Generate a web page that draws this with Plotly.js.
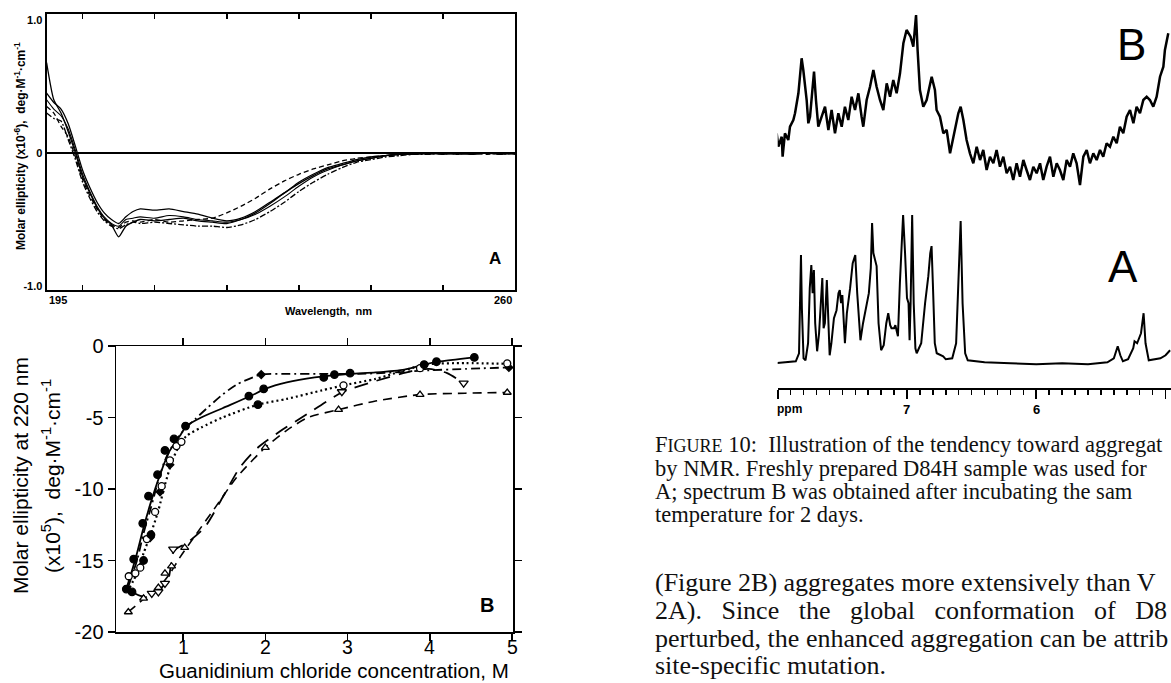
<!DOCTYPE html>
<html><head><meta charset="utf-8">
<script src="https://cdn.plot.ly/plotly-3.0.1.min.js"></script>
<style>html,body{margin:0;padding:0;background:#fff;overflow:hidden}#chart{width:1171px;height:683px}</style>
</head><body><div id="chart"></div>
<script>
// ---------- Panel A: CD spectra ----------
const cdWavelength = [195,196,197,198,199,200,201,202,203,204,205,206,207,208,210,212,214,216,218,220,222,224,226,228,230,232,234,236,238,240,242,244,246,248,250,252,254,256,258,260];
const cdCurve1 = [0.45,0.38,0.33,0.22,0.05,-0.13,-0.26,-0.37,-0.45,-0.50,-0.53,-0.48,-0.44,-0.42,-0.43,-0.42,-0.44,-0.46,-0.49,-0.51,-0.49,-0.44,-0.37,-0.30,-0.22,-0.16,-0.11,-0.08,-0.05,-0.03,-0.02,-0.01,-0.01,0.0,-0.01,0.0,-0.01,0.0,0.0,-0.01];
const cdCurve2 = [0.68,0.40,0.30,0.16,0.00,-0.18,-0.30,-0.41,-0.49,-0.54,-0.63,-0.55,-0.52,-0.50,-0.51,-0.50,-0.49,-0.51,-0.52,-0.53,-0.50,-0.45,-0.38,-0.30,-0.23,-0.17,-0.12,-0.09,-0.06,-0.04,-0.02,-0.01,0.0,-0.01,0.0,-0.01,0.0,0.0,-0.01,0.0];
const cdCurve3 = [0.35,0.30,0.20,0.12,-0.03,-0.20,-0.32,-0.42,-0.50,-0.54,-0.56,-0.52,-0.51,-0.52,-0.50,-0.52,-0.51,-0.50,-0.49,-0.45,-0.40,-0.34,-0.27,-0.21,-0.16,-0.12,-0.09,-0.06,-0.04,-0.03,-0.02,-0.01,0.0,0.0,-0.01,0.0,0.0,-0.01,0.0,0.0];
const cdCurve4 = [0.30,0.26,0.24,0.10,-0.05,-0.22,-0.34,-0.44,-0.51,-0.55,-0.57,-0.54,-0.52,-0.53,-0.52,-0.53,-0.54,-0.55,-0.55,-0.56,-0.54,-0.50,-0.44,-0.37,-0.29,-0.22,-0.16,-0.11,-0.07,-0.05,-0.03,-0.02,-0.01,-0.01,0.0,-0.01,0.0,0.0,-0.01,0.0];
const cdCurve5 = [0.40,0.33,0.28,0.18,0.02,-0.16,-0.29,-0.40,-0.48,-0.53,-0.55,-0.50,-0.49,-0.48,-0.49,-0.47,-0.48,-0.50,-0.51,-0.52,-0.50,-0.46,-0.40,-0.33,-0.25,-0.18,-0.13,-0.09,-0.06,-0.04,-0.02,-0.01,-0.01,0.0,0.0,0.0,-0.01,0.0,0.0,0.0];
const cdYTickVals = [-1, 0, 1];
const cdYTickText = ['-1.0', '0', '1.0'];
const cdXTickVals = [200,210,220,230,240,250];
const cdXEndLabels = ['195', '260'];

// ---------- Panel B: GdmCl denaturation ----------
const s1MarkX = [0.31,0.38,0.40,0.51,0.52,0.58,0.61,0.69,0.78,0.89,1.03,1.80,1.91,1.98,2.71,2.84,3.03,3.93,4.08,4.54];
const s1MarkY = [-17.0,-17.2,-14.9,-12.4,-15.0,-10.5,-13.2,-9.0,-7.3,-6.5,-5.6,-3.5,-4.1,-3.0,-2.2,-2.0,-1.9,-1.3,-1.1,-0.8];
const s1FitX = [0.31,0.37,0.44,0.52,0.61,0.72,0.83,0.96,1.04,1.22,1.48,1.82,2.00,2.26,2.60,3.03,3.34,3.69,3.93,4.10,4.54];
const s1FitY = [-17.0,-15.9,-14.5,-12.7,-10.9,-9.0,-7.4,-6.3,-5.6,-5.0,-4.35,-3.5,-3.0,-2.55,-2.2,-1.95,-1.85,-1.65,-1.3,-1.1,-0.8];
const s2MarkX = [0.34,0.42,0.48,0.56,0.66,0.74,0.84,0.92,0.98,2.95,3.88,4.94];
const s2MarkY = [-16.1,-15.9,-15.5,-13.5,-11.6,-9.8,-8.0,-7.0,-6.7,-2.75,-1.55,-1.22];
const s2FitX = [0.35,0.44,0.52,0.61,0.70,0.78,0.87,0.96,1.04,1.22,1.48,1.91,2.26,2.69,2.95,3.34,3.95,4.43,4.95];
const s2FitY = [-16.9,-15.9,-14.5,-13.1,-11.5,-9.7,-8.0,-6.9,-6.3,-5.7,-5.0,-4.1,-3.7,-3.1,-2.75,-2.3,-1.3,-1.2,-1.25];
const s3MarkX = [0.60,0.72,0.84,1.95,4.96];
const s3MarkY = [-13.4,-10.2,-8.3,-2.0,-1.5];
const s3FitX = [0.33,0.44,0.52,0.61,0.70,0.78,0.91,1.04,1.15,1.30,1.48,1.65,1.95,2.26,2.69,3.13,3.56,3.99,4.43,4.95];
const s3FitY = [-16.9,-15.0,-13.1,-11.3,-9.4,-8.0,-6.6,-5.7,-5.1,-4.3,-3.4,-2.7,-2.0,-1.95,-1.95,-1.95,-1.85,-1.7,-1.6,-1.5];
const s4MarkX = [0.62,0.70,0.78,0.88,2.93,4.41];
const s4MarkY = [-17.3,-17.2,-16.6,-14.2,-3.2,-2.6];
const s4FitX = [0.38,0.50,0.62,0.72,0.82,0.89,1.04,1.26,1.48,1.69,1.91,2.17,2.47,2.93,3.34,3.78,3.99,4.21,4.43];
const s4FitY = [-17.2,-17.5,-17.3,-17.0,-16.3,-14.3,-13.8,-12.7,-10.6,-8.5,-7.1,-6.0,-4.9,-3.25,-2.45,-1.75,-1.6,-1.9,-2.7];
const s5MarkX = [0.335,0.52,0.70,0.78,0.86,1.02,2.00,2.89,3.88,4.94];
const s5MarkY = [-18.6,-17.65,-16.9,-15.9,-15.4,-14.1,-7.1,-4.45,-3.4,-3.25];
const s5FitX = [0.335,0.52,0.70,0.83,0.96,1.13,1.39,1.65,2.0,2.26,2.52,2.89,3.34,3.88,4.43,4.94];
const s5FitY = [-18.6,-17.7,-16.9,-16.0,-14.8,-13.4,-11.3,-9.2,-7.1,-5.9,-5.0,-4.45,-3.85,-3.4,-3.3,-3.25];
const gdmXTickVals = [1,2,3,4,5];
const gdmXTickText = ['1','2','3','4','5'];
const gdmYTickVals = [0,-5,-10,-15,-20];
const gdmYTickText = ['0','-5','-10','-15','-20'];

// ---------- NMR spectra ----------
const nmrA_ppm = [8.02,7.95,7.90,7.86,7.835,7.826,7.82,7.813,7.80,7.785,7.765,7.752,7.74,7.73,7.72,7.71,7.695,7.68,7.665,7.655,7.645,7.635,7.62,7.61,7.598,7.585,7.565,7.545,7.53,7.52,7.51,7.50,7.488,7.48,7.465,7.45,7.44,7.42,7.40,7.385,7.37,7.36,7.34,7.32,7.31,7.295,7.28,7.27,7.26,7.25,7.235,7.22,7.20,7.18,7.16,7.145,7.13,7.12,7.10,7.09,7.07,7.055,7.04,7.03,7.015,7.00,6.988,6.98,6.972,6.96,6.948,6.935,6.925,6.89,6.86,6.835,6.82,6.81,6.80,6.785,6.77,6.74,6.72,6.70,6.65,6.62,6.60,6.585,6.57,6.55,6.53,6.40,6.20,6.00,5.80,5.60,5.45,5.40,5.37,5.35,5.33,5.29,5.25,5.24,5.22,5.19,5.17,5.155,5.13,5.08,5.04,5.00,4.965];
const nmrA_int = [0,1,1,2,10,60,108,55,5,3,20,75,98,70,93,40,12,30,70,85,35,40,83,45,8,20,45,53,70,73,60,68,30,20,50,63,75,100,108,70,35,23,40,55,60,70,95,140,110,105,97,40,13,18,40,50,38,35,35,38,27,80,130,148,110,65,60,23,60,148,60,15,10,20,60,87,110,117,80,20,10,8,7,4,5,20,90,142,60,10,3,1,0,-1,0,-1,1,5,17,8,2,4,15,22,20,30,50,20,3,4,5,8,13];
const nmrB_ppm = [8.008,7.995,7.969,7.962,7.944,7.918,7.905,7.879,7.866,7.840,7.815,7.802,7.776,7.763,7.750,7.737,7.719,7.704,7.686,7.660,7.634,7.608,7.583,7.557,7.531,7.505,7.480,7.454,7.428,7.402,7.376,7.351,7.338,7.312,7.286,7.260,7.235,7.209,7.183,7.157,7.131,7.106,7.080,7.054,7.028,7.003,6.990,6.972,6.951,6.930,6.918,6.900,6.874,6.848,6.809,6.784,6.771,6.745,6.719,6.693,6.667,6.641,6.603,6.585,6.564,6.539,6.513,6.487,6.461,6.435,6.410,6.384,6.358,6.332,6.307,6.281,6.255,6.229,6.203,6.178,6.152,6.126,6.100,6.075,6.049,6.023,5.997,5.971,5.946,5.920,5.894,5.868,5.842,5.817,5.791,5.765,5.739,5.714,5.688,5.662,5.636,5.610,5.585,5.559,5.533,5.507,5.482,5.456,5.430,5.404,5.378,5.353,5.327,5.301,5.275,5.249,5.224,5.198,5.172,5.146,5.121,5.095,5.069,5.043,5.017,5.005,4.979];
const nmrB_int = [56.7,43.3,53.3,33.3,56.7,50.0,63.3,70.0,76.7,96.7,131.7,120.0,90.0,66.7,73.3,90.0,118.3,90.0,63.3,73.3,83.3,60.0,80.0,56.7,76.7,63.3,83.3,70.0,93.3,80.0,96.7,73.3,63.3,90.0,103.3,120.0,103.3,90.0,80.0,106.7,93.3,110.0,96.7,116.7,146.7,160.0,156.7,153.3,143.3,175.0,140.0,100.0,83.3,90.0,113.3,100.0,80.0,73.3,56.7,60.0,36.7,53.3,76.7,83.3,70.0,50.0,36.7,26.7,43.3,30.0,40.0,20.0,33.3,26.7,40.0,23.3,33.3,16.7,23.3,10.0,26.7,13.3,30.0,20.0,10.0,23.3,16.7,26.7,10.0,23.3,33.3,13.3,26.7,20.0,10.0,30.0,23.3,36.7,26.7,5.0,33.3,40.0,26.7,36.7,30.0,40.0,33.3,46.7,43.3,53.3,46.7,63.3,56.7,73.3,80.0,66.7,83.3,76.7,90.0,93.3,90.0,83.3,93.3,113.3,123.3,140.0,156.7];
const nmrTickVals = [8,7,6,5];
const nmrLabelVals = [7, 6];
const nmrLabelText = ['7', '6'];

// ---------- Texts ----------
const captionLines = [
  'F<span style="font-size:18px">IGURE</span> 10:\u00A0 Illustration of the tendency toward aggregat',
  'by NMR. Freshly prepared D84H sample was used for',
  'A; spectrum B was obtained after incubating the sam',
  'temperature for 2 days.'
];
const bodyLines = [
  '(Figure 2B) aggregates more extensively than V',
  '2A).\u00A0\u00A0 Since\u00A0\u00A0 the\u00A0\u00A0 global\u00A0\u00A0 conformation\u00A0\u00A0 of\u00A0\u00A0 D8',
  'perturbed, the enhanced aggregation can be attrib',
  'site-specific mutation.'
];

// ---------- layout helpers ----------
const W = 1171, H = 683;
const px = v => v / W, py = v => 1 - v / H;
const SANS = 'Liberation Sans, Arial, Helvetica, sans-serif';
const SERIF = 'Liberation Serif, Times New Roman, serif';
const K = '#000';

const NMR_L = 777.7, NMR_R = 1171, NMR_P0 = 8.0, NMR_P1 = 4.958;
const nmrPx = p => NMR_L + (NMR_P0 - p) / (NMR_P0 - NMR_P1) * (NMR_R - NMR_L);
const GB_L = 116, GB_R = 513, GB_X0 = 0.185, GB_X1 = 5.01;
const gbPx = v => GB_L + (v - GB_X0) / (GB_X1 - GB_X0) * (GB_R - GB_L);

const traces = [];
const cdStyles = [
  {dash:'solid', width:1.3}, {dash:'solid', width:1.3}, {dash:'5px,3px', width:1.3},
  {dash:'6px,2px,2px,2px', width:1.3}, {dash:'solid', width:1.1}
];
[cdCurve1, cdCurve2, cdCurve3, cdCurve4, cdCurve5].forEach((c, i) => {
  traces.push({x: cdWavelength, y: c, xaxis:'x', yaxis:'y', mode:'lines', type:'scatter',
    line:{color:K, width:cdStyles[i].width, dash:cdStyles[i].dash, shape:'spline', smoothing:0.6}, hoverinfo:'skip'});
});

function fit(x, y, dash, width) {
  traces.push({x, y, xaxis:'x2', yaxis:'y2', mode:'lines', type:'scatter',
    line:{color:K, width, dash, shape:'spline', smoothing:0.7}, hoverinfo:'skip'});
}
function marks(x, y, symbol, size, filled) {
  traces.push({x, y, xaxis:'x2', yaxis:'y2', mode:'markers', type:'scatter',
    marker:{symbol, size, color: filled ? K : '#fff', line:{color:K, width:1.3}}, hoverinfo:'skip'});
}
fit(s1FitX, s1FitY, 'solid', 1.8);
fit(s2FitX, s2FitY, '2px,3px', 2.2);
fit(s3FitX, s3FitY, '9px,4px,2px,4px', 1.8);
fit(s4FitX, s4FitY, '14px,9px', 1.8);
fit(s5FitX, s5FitY, '9px,6px', 1.6);
marks(s5MarkX, s5MarkY, 'triangle-up', 7, false);
marks(s4MarkX, s4MarkY, 'triangle-down', 8, false);
marks(s3MarkX, s3MarkY, 'diamond', 6, true);
marks(s2MarkX, s2MarkY, 'circle', 7, false);
marks(s1MarkX, s1MarkY, 'circle', 7.5, true);

traces.push({x: nmrA_ppm, y: nmrA_int, xaxis:'x3', yaxis:'y3', mode:'lines', type:'scatter',
  line:{color:K, width:2}, hoverinfo:'skip'});
traces.push({x: nmrB_ppm, y: nmrB_int, xaxis:'x3', yaxis:'y4', mode:'lines', type:'scatter',
  line:{color:K, width:2.5}, hoverinfo:'skip'});

const annotations = [];
function ann(text, x, y, o) {
  annotations.push(Object.assign({text, x:px(x), y:py(y), xref:'paper', yref:'paper', showarrow:false,
    xanchor:'center', yanchor:'middle', font:{family:SANS, size:12, color:K}}, o || {}));
}
const boldSmall = {family:SANS, size:11, color:K, weight:'bold'};
// Panel A texts
ann(cdXEndLabels[0], 58, 300, {font:boldSmall});
ann(cdXEndLabels[1], 503, 300, {font:boldSmall});
ann('Wavelength,  nm', 328, 311, {font:boldSmall});
ann('A', 495, 258, {font:{family:SANS, size:17, color:K, weight:'bold'}});
ann('Molar ellipticity (x10<sup>-6</sup>),  deg·M<sup>-1</sup>·cm<sup>-1</sup>', 20, 146,
  {textangle:-90, font:{family:SANS, size:12, color:K, weight:'bold'}});
// Panel B texts
gdmXTickVals.forEach((v, i) => ann(gdmXTickText[i], gbPx(v), 647, {borderpad:0, font:{family:SANS, size:19.5, color:K}}));
ann('B', 487, 605, {font:{family:SANS, size:20, color:K, weight:'bold'}});
ann('Guanidinium chloride concentration, M', 334, 670.5, {borderpad:0, font:{family:SANS, size:20.5, color:K}});
ann('Molar ellipticity at 220 nm', 20, 476, {textangle:-90, font:{family:SANS, size:21, color:K}});
ann('(x10<sup>5</sup>),\u00A0\u00A0deg·M<sup>-1</sup>·cm<sup>-1</sup>', 51, 476, {textangle:-90, font:{family:SANS, size:21, color:K}});
// NMR texts
ann('B', 1131, 44, {font:{family:SANS, size:44, color:K}});
ann('A', 1123, 266, {font:{family:SANS, size:44, color:K}});
ann('ppm', 775, 409, {xanchor:'left', font:{family:SANS, size:12, color:K, weight:'bold'}});
nmrLabelVals.forEach((v, i) => ann(nmrLabelText[i], nmrPx(v), 409, {font:{family:SANS, size:13, color:K, weight:'bold'}}));
// Caption and body
const capY = [444, 468, 491, 514];
captionLines.forEach((t, i) => ann(t, 653, capY[i], {xanchor:'left', font:{family:SERIF, size:22.5, color:'#111'}}));
const bodyY = [582, 610, 638, 665];
bodyLines.forEach((t, i) => ann(t, 653, bodyY[i], {xanchor:'left', font:{family:SERIF, size:26, color:'#111'}}));

const layout = {
  width: W, height: H, margin:{l:0, r:0, t:0, b:0}, paper_bgcolor:'#fff', plot_bgcolor:'rgba(0,0,0,0)',
  showlegend:false, font:{family:SANS, color:K},
  xaxis: {domain:[px(46.6), px(515)], range:[195, 260], anchor:'y', showline:true, linecolor:K, linewidth:2,
    mirror:'allticks', ticks:'inside', ticklen:5, tickwidth:1.5, tickcolor:K, tickmode:'array', tickvals:cdXTickVals,
    showticklabels:false, showgrid:false, zeroline:false, fixedrange:true},
  yaxis: {domain:[py(290), py(14)], range:[-1.03, 1.045], anchor:'x', showline:true, linecolor:K, linewidth:2,
    mirror:true, ticks:'', tickmode:'array', tickvals:cdYTickVals, ticktext:cdYTickText,
    tickfont:{family:SANS, size:11, color:K, weight:'bold'}, showgrid:false, zeroline:true, zerolinecolor:K, zerolinewidth:2, fixedrange:true},
  xaxis2: {domain:[px(GB_L), px(GB_R)], range:[GB_X0, GB_X1], anchor:'y2', showline:true, linecolor:K, linewidth:1.5,
    mirror:'allticks', ticks:'outside', ticklen:7, tickwidth:1.5, tickcolor:K, tickmode:'array', tickvals:gdmXTickVals,
    showticklabels:false, showgrid:false, zeroline:false, fixedrange:true},
  yaxis2: {domain:[py(632), py(346)], range:[-20, 0], anchor:'x2', showline:true, linecolor:K, linewidth:1.5,
    mirror:'allticks', ticks:'outside', ticklen:7, tickwidth:1.5, tickcolor:K, tickmode:'array', tickvals:gdmYTickVals,
    ticktext:gdmYTickText, tickfont:{family:SANS, size:20, color:K}, showgrid:false, zeroline:false, fixedrange:true},
  xaxis3: {domain:[px(NMR_L), px(NMR_R)], range:[NMR_P0, NMR_P1], anchor:'free', position:py(389), showline:true, linecolor:K, linewidth:2,
    ticks:'outside', ticklen:9, tickwidth:1.8, tickcolor:K, tickmode:'array', tickvals:nmrTickVals, showticklabels:false,
    minor:{ticks:'outside', ticklen:5, tickwidth:1.5, tickcolor:K, tickmode:'linear', tick0:5, dtick:0.1},
    showgrid:false, zeroline:false, fixedrange:true},
  yaxis3: {domain:[py(366.3), py(210)], range:[-3, 153], anchor:'x3', visible:false, fixedrange:true},
  yaxis4: {domain:[py(190), 1], range:[0, 190], anchor:'x3', visible:false, fixedrange:true},
  annotations
};

Plotly.newPlot('chart', traces, layout, {staticPlot:true, displayModeBar:false});
</script></body></html>
